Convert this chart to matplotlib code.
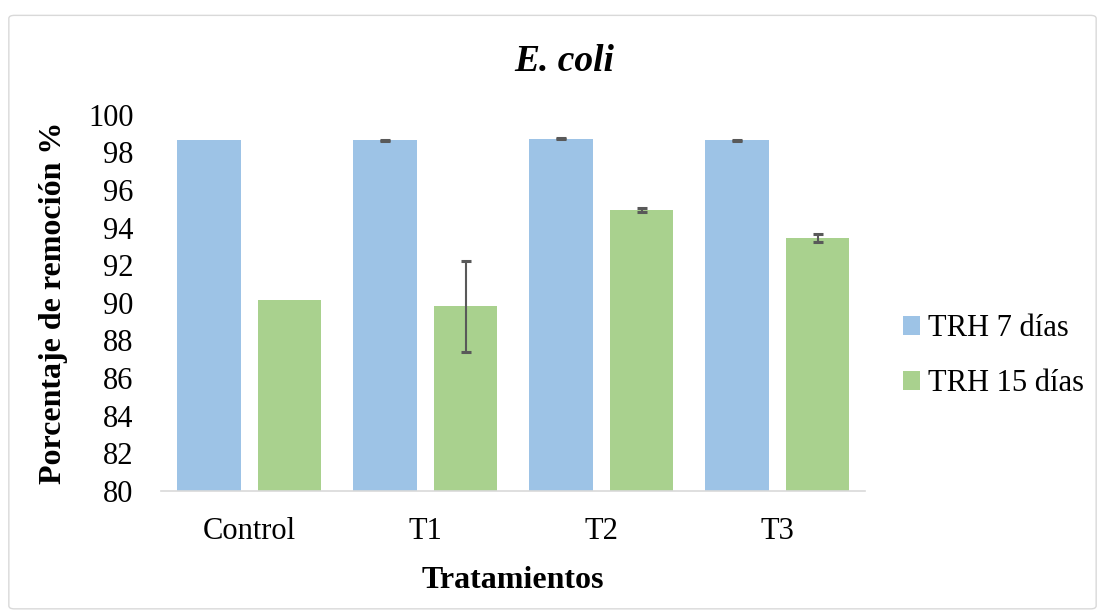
import numpy as np
import matplotlib.pyplot as plt
from matplotlib.patches import FancyBboxPatch

categories = ['Control', 'T1', 'T2', 'T3']
trh7 = [98.63, 98.63, 98.72, 98.63]
trh7_err = [np.nan, 0.03, 0.04, 0.02]
trh15 = [90.14, 89.82, 94.95, 93.44]
trh15_err = [np.nan, 2.42, 0.11, 0.23]

plt.rcParams['font.family'] = ['Liberation Serif', 'DejaVu Serif']

fig = plt.figure(figsize=(11.05, 6.15), dpi=100)
ax = fig.add_axes([0.146, 0.2016, 0.637, 0.612])

x = np.arange(len(categories))
w = 0.36
off = 0.229
ax.bar(x - off, trh7, w, color='#9DC3E6', label='TRH 7 días')
ax.bar(x + off, trh15, w, color='#A9D18E', label='TRH 15 días')

ekw = dict(fmt='none', ecolor='#595959', elinewidth=1.5, capsize=3.5, capthick=2.2)
ax.errorbar(x - off, trh7, yerr=trh7_err, **ekw)
ax.errorbar(x + off, trh15, yerr=trh15_err, **ekw)

ax.set_ylim(80, 100)
ax.set_xlim(-0.5, 3.5)
ax.set_yticks(range(80, 101, 2))
ax.set_xticks(x)
ax.set_xticklabels(categories)
ax.tick_params(axis='both', length=0, labelsize=22)
ax.tick_params(axis='x', pad=19)
ax.tick_params(axis='y', pad=20)
for s in ['top', 'right', 'left']:
    ax.spines[s].set_visible(False)
ax.spines['bottom'].set_color('#D9D9D9')
ax.spines['bottom'].set_linewidth(1.2)

ax.set_xlabel('Tratamientos', fontsize=23, fontweight='bold', labelpad=14)
ax.set_ylabel('Porcentaje de remoción %', fontsize=23, fontweight='bold')
ax.yaxis.set_label_coords(-0.132, 0.5)
fig.text(0.511, 0.9, 'E. coli', fontsize=27, fontweight='bold', style='italic',
         ha='center', va='center')

ax.legend(loc='center left', bbox_to_anchor=(1.015, 0.358), frameon=False,
          fontsize=22, handlelength=0.55, handleheight=0.55, handletextpad=0.25,
          labelspacing=0.85)

frame = FancyBboxPatch((0.008, 0.01), 0.984, 0.965, boxstyle='round,pad=0,rounding_size=0.005',
                       transform=fig.transFigure, fill=False, edgecolor='#D9D9D9',
                       linewidth=1.0)
fig.patches.append(frame)

fig.savefig('out.png', dpi=100)
